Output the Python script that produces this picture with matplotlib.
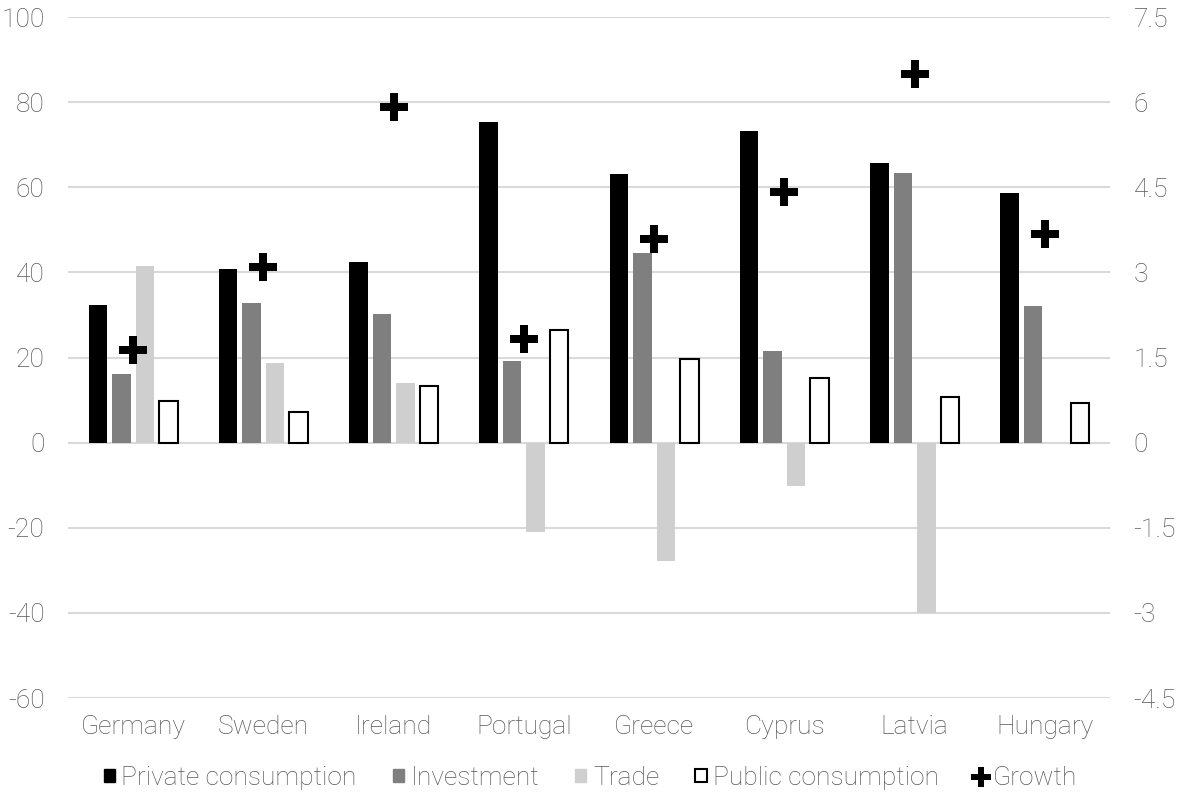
import matplotlib.pyplot as plt
import numpy as np
from matplotlib.patches import Patch
from matplotlib.lines import Line2D
from matplotlib.path import Path

plt.rcParams['font.family'] = ['Roboto', 'DejaVu Sans']
plt.rcParams['font.weight'] = 'light'

# data
countries = ['Germany', 'Sweden', 'Ireland', 'Portugal', 'Greece', 'Cyprus', 'Latvia', 'Hungary']
private_consumption = [32.3, 40.9, 42.4, 75.4, 63.1, 73.3, 65.8, 58.6]
investment = [16.2, 32.8, 30.3, 19.1, 44.6, 21.6, 63.3, 32.1]
trade = [41.5, 18.8, 13.9, -21.1, -27.7, -10.3, -40.0, 0.0]
public_consumption = [9.9, 7.2, 13.3, 26.5, 19.7, 15.2, 10.7, 9.2]
growth = [1.64, 3.09, 5.91, 1.82, 3.58, 4.42, 6.5, 3.68]

left_ticks = [-60, -40, -20, 0, 20, 40, 60, 80, 100]
right_ticks = [-4.5, -3, -1.5, 0, 1.5, 3, 4.5, 6, 7.5]
right_labels = ['-4.5', '-3', '-1.5', '0', '1.5', '3', '4.5', '6', '7.5']

text_color = '#595959'
grid_color = '#d9d9d9'
fs = 19

# thin filled plus used for the growth points
t = 0.135
plus = Path([(-t, 0.5), (t, 0.5), (t, t), (0.5, t), (0.5, -t), (t, -t), (t, -0.5),
             (-t, -0.5), (-t, -t), (-0.5, -t), (-0.5, t), (-t, t), (-t, 0.5)])

fig = plt.figure(figsize=(11.81, 7.96), dpi=100)
ax = fig.add_axes([0.0576, 0.1231, 0.8823, 0.8555])

x = np.arange(len(countries))
w = 0.142
step = 0.18

ax.bar(x - 1.5 * step, private_consumption, w, color='black', zorder=3)
ax.bar(x - 0.5 * step, investment, w, color='#7f7f7f', zorder=3)
ax.bar(x + 0.5 * step, trade, w, color='#d0cfd0', zorder=3)
ax.bar(x + 1.5 * step, public_consumption, w, facecolor='white', edgecolor='black',
       linewidth=1.5, zorder=3)

ax.set_xlim(-0.5, len(countries) - 0.5)
ax.set_ylim(-60, 100)
ax.set_yticks(left_ticks)
ax.set_yticklabels([str(t) for t in left_ticks])
ax.set_xticks(x)
ax.set_xticklabels(countries)
ax.grid(axis='y', color=grid_color, linewidth=1.5, zorder=0)
ax.set_axisbelow(True)
ax.tick_params(length=0, labelsize=fs, colors=text_color)
ax.tick_params(axis='x', pad=12)
ax.tick_params(axis='y', pad=17)
for s in ax.spines.values():
    s.set_visible(False)

ax2 = ax.twinx()
ax2.plot(x, growth, linestyle='none', marker=plus, markersize=20, markeredgewidth=0,
         color='black', zorder=4)
ax2.set_ylim(-4.5, 7.5)
ax2.set_yticks(right_ticks)
ax2.set_yticklabels(right_labels)
ax2.tick_params(length=0, labelsize=fs, colors=text_color, pad=17)
for s in ax2.spines.values():
    s.set_visible(False)

handles = [
    Patch(facecolor='black', edgecolor='black'),
    Patch(facecolor='#7f7f7f', edgecolor='#7f7f7f'),
    Patch(facecolor='#d0cfd0', edgecolor='#d0cfd0'),
    Patch(facecolor='white', edgecolor='black', linewidth=1.5),
    Line2D([], [], linestyle='none', marker=plus, markersize=14, markeredgewidth=0,
           color='black'),
]
labels = ['Private consumption', 'Investment', 'Trade', 'Public consumption', 'Growth']
fig.legend(handles, labels, loc='center', bbox_to_anchor=(0.5, 0.0226), ncol=5,
           frameon=False, fontsize=fs, labelcolor=text_color, handlelength=0.42,
           handleheight=0.42, handletextpad=0.25, columnspacing=1.37)

fig.savefig('out.png', dpi=100)
